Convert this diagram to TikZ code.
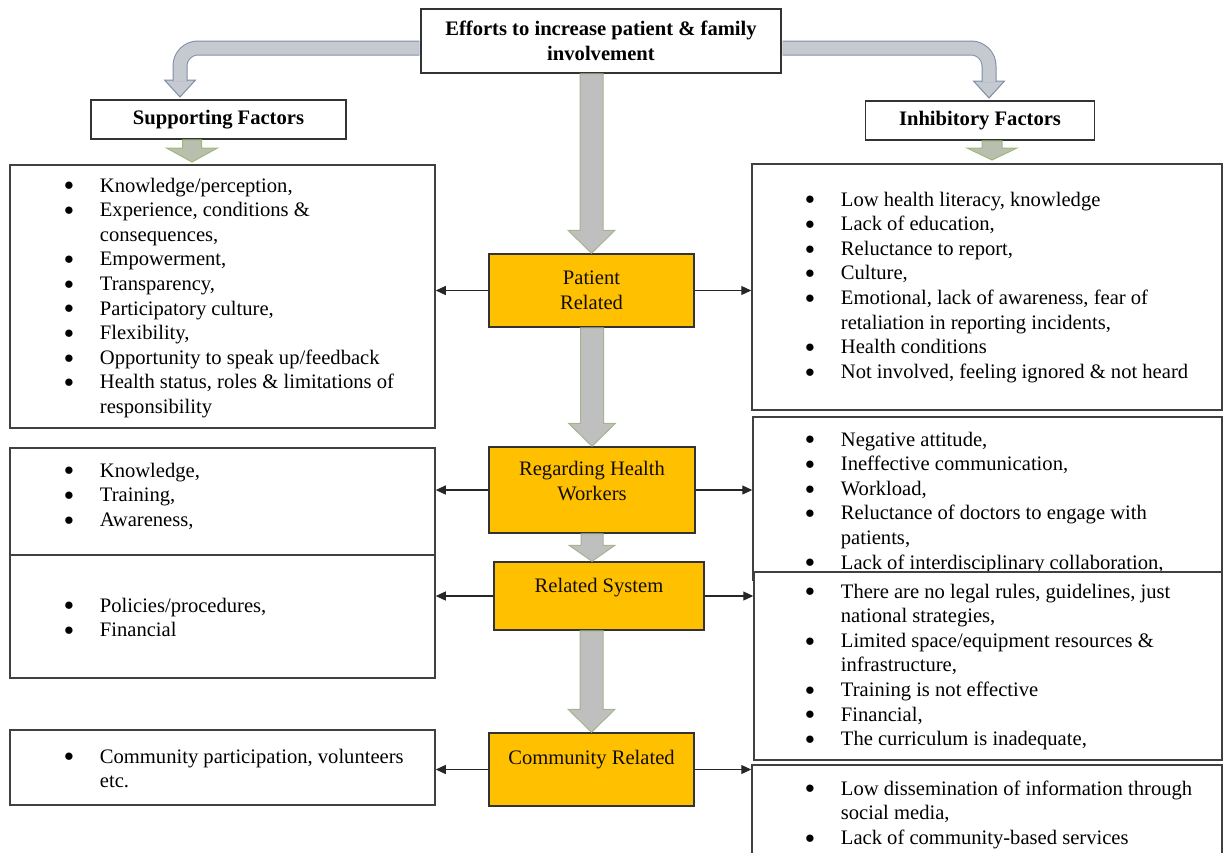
\documentclass[tikz,border=0pt]{standalone}
\usepackage{fontspec}
\setmainfont{Liberation Serif}
\usetikzlibrary{arrows.meta,calc}
\definecolor{gold}{HTML}{FFC000}
\definecolor{fatfill}{HTML}{BFBFBF}
\definecolor{fatline}{HTML}{A3B58C}
\definecolor{subfill}{HTML}{B9BFAF}
\definecolor{subline}{HTML}{9FB77A}
\definecolor{bandfill}{HTML}{C5C9D0}
\definecolor{bandline}{HTML}{7E8EA7}
\newcommand\boxfont{\fontsize{10.3}{12.3}\selectfont}
\newcommand\bl{\raisebox{0.6pt}{\fontsize{8.5}{6}\selectfont\char"25CF}}
\newcommand\factlist[1]{\begin{tabular}[t]{@{}p{18pt}@{}l@{}}#1\end{tabular}}
\newcommand\fatdown[6]{%
  \filldraw[#1] let \p1=#2, \p2=#3 in
  (\x1-#4,\y1) -- (\x1-#4,\y2+#6) -- (\x1-#5,\y2+#6) -- (\x1,\y2)
  -- (\x1+#5,\y2+#6) -- (\x1+#4,\y2+#6) -- (\x1+#4,\y1) -- cycle;}
\tikzset{hbox/.style={draw=black!80, fill=white, line width=0.75pt, font=\boxfont\bfseries, align=center, inner sep=0pt},
ybox/.style={draw=black!80, fill=gold, line width=0.75pt, inner sep=0pt},
ytext/.style={font=\boxfont, align=center, text=black!90!brown},
lbox/.style={draw=black!75, fill=white, line width=0.75pt, inner sep=0pt},
ltext/.style={font=\boxfont, anchor=base west, inner sep=0pt},
conn/.style={-{Triangle[length=5pt,width=4.5pt]}, line width=0.6pt, black!85},
fatarr/.style={fill=fatfill, draw=fatline, line width=0.5pt},
subarr/.style={fill=subfill, draw=subline, line width=0.5pt},
bandout/.style={draw=bandline, line width=7.5pt, rounded corners=9pt},
bandin/.style={draw=bandfill, line width=6.5pt, rounded corners=9pt},
bandhead/.style={fill=bandfill, draw=bandline, line width=0.5pt}}

\begin{document}
\begin{tikzpicture}[x=0.5pt, y=-0.5pt]
\useasboundingbox (0,0) rectangle (1224,852);
\node[hbox, minimum width=180pt, minimum height=32pt] (top) at (601,41) {Efforts to increase patient \& family\\involvement};
\node[hbox, minimum width=127.5pt, minimum height=19.5pt] (sup) at (218.5,119.5) {Supporting Factors};
\node[hbox, minimum width=114.5pt, minimum height=19.5pt] (inh) at (980,120.5) {Inhibitory Factors};

\node[ybox, ytext, minimum width=102.5pt, minimum height=36.5pt] (pat) at (591.5,290.5) {Patient\\Related};
\node[ybox, minimum width=103pt, minimum height=43pt] (hw) at (592,490) {};
\node[ytext] (hwt) at (592,481) {Regarding Health\\Workers};
\node[ybox, minimum width=105pt, minimum height=34pt] (rs) at (599,596) {};
\node[ytext] (rst) at (599,588) {Related System};
\node[ybox, minimum width=102.5pt, minimum height=36.5pt] (com) at (591.5,769.5) {};
\node[ytext] (comt) at (591.5,760) {Community Related};

\node[lbox, minimum width=212.5pt, minimum height=131.5pt] (L1) at (222.5,296.5) {};
\begin{scope}
\clip (L1.north west) rectangle (435,417);
\node[ltext] (l1t) at (63.5,192) {\factlist{
\bl & Knowledge/perception,\\
\bl & Experience, conditions \&\\
 & consequences,\\
\bl & Empowerment,\\
\bl & Transparency,\\
\bl & Participatory culture,\\
\bl & Flexibility,\\
\bl & Opportunity to speak up/feedback\\
\bl & Health status, roles \& limitations of\\
 & responsibility}};
\end{scope}
\node[lbox, minimum width=212.5pt, minimum height=53.5pt] (L2) at (222.5,501.5) {};
\node[ltext] (l2t) at (63.5,477) {\factlist{
\bl & Knowledge,\\
\bl & Training,\\
\bl & Awareness,}};
\node[lbox, minimum width=212.5pt, minimum height=61.5pt] (L3) at (222.5,616.5) {};
\node[ltext] (l3t) at (63.5,612) {\factlist{
\bl & Policies/procedures,\\
\bl & Financial}};
\node[lbox, minimum width=212.5pt, minimum height=37.5pt] (L4) at (222.5,767.5) {};
\node[ltext] (l4t) at (63.5,763) {\factlist{
\bl & Community participation, volunteers\\
 & etc.}};

\node[lbox, minimum width=235pt, minimum height=123pt] (R1) at (987,287) {};
\node[ltext] (r1t) at (804.5,206) {\factlist{
\bl & Low health literacy, knowledge\\
\bl & Lack of education,\\
\bl & Reluctance to report,\\
\bl & Culture,\\
\bl & Emotional, lack of awareness, fear of\\
 & retaliation in reporting incidents,\\
\bl & Health conditions\\
\bl & Not involved, feeling ignored \& not heard}};
\node[lbox, minimum width=234.5pt, minimum height=81.5pt] (R2) at (987.5,498.5) {};
\node[ltext] (r2t) at (804.5,446) {\factlist{
\bl & Negative attitude,\\
\bl & Ineffective communication,\\
\bl & Workload,\\
\bl & Reluctance of doctors to engage with\\
 & patients,\\
\bl & Lack of interdisciplinary collaboration,}};
\node[lbox, minimum width=234pt, minimum height=94pt] (R3) at (988,666) {};
\node[ltext] (r3t) at (804.5,598) {\factlist{
\bl & There are no legal rules, guidelines, just\\
 & national strategies,\\
\bl & Limited space/equipment resources \&\\
 & infrastructure,\\
\bl & Training is not effective\\
\bl & Financial,\\
\bl & The curriculum is inadequate,}};
\node[lbox, minimum width=235pt, minimum height=52.5pt] (R4) at (987,817.5) {};
\node[ltext] (r4t) at (804.5,795) {\factlist{
\bl & Low dissemination of information through\\
 & social media,\\
\bl & Lack of community-based services}};

\coordinate (lt) at (180,97);
\coordinate (rt) at (989,98);
\filldraw[bandhead] (lt) -- ++(-15.5,-17) -- ++(31,0) -- cycle;
\filldraw[bandhead] (rt) -- ++(-15.5,-17) -- ++(31,0) -- cycle;
\draw[bandout] ([xshift=-0.4pt,yshift=-3.5pt]top.west) -| ([yshift=8pt]lt);
\draw[bandin] ([xshift=-0.4pt,yshift=-3.5pt]top.west) -| ([yshift=8pt]lt);
\draw[bandout] ([xshift=0.4pt,yshift=-3.5pt]top.east) -| ([yshift=8pt]rt);
\draw[bandin] ([xshift=0.4pt,yshift=-3.5pt]top.east) -| ([yshift=8pt]rt);

\coordinate (st) at (192,162);
\coordinate (it) at (992,160);
\fatdown{subarr}{(st |- sup.south)}{(st)}{4.75pt}{12.75pt}{7pt}
\fatdown{subarr}{(it |- inh.south)}{(it)}{5pt}{12.5pt}{6pt}
\fatdown{fatarr}{(pat.north |- top.south)}{(pat.north)}{5.75pt}{11.75pt}{11.5pt}
\fatdown{fatarr}{(hw.north |- pat.south)}{(hw.north)}{5.75pt}{11.75pt}{11.5pt}
\fatdown{fatarr}{(hw.south)}{(hw.south |- rs.north)}{5.5pt}{11.5pt}{8pt}
\fatdown{fatarr}{(com.north |- rs.south)}{(com.north)}{5.75pt}{11.75pt}{11.5pt}

\draw[conn] (pat.west) -- (pat.west -| L1.east);
\draw[conn] (pat.east) -- (pat.east -| R1.west);
\draw[conn] (hw.west) -- (hw.west -| L2.east);
\draw[conn] (hw.east) -- (hw.east -| R2.west);
\draw[conn] (rs.west) -- (rs.west -| L3.east);
\draw[conn] (rs.east) -- (rs.east -| R3.west);
\draw[conn] (com.west) -- (com.west -| L4.east);
\draw[conn] (com.east) -- (com.east -| R4.west);
\end{tikzpicture}
\end{document}
